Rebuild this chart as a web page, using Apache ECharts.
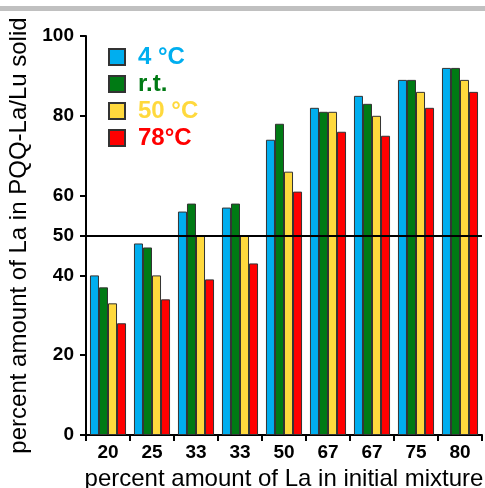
<!DOCTYPE html>
<html>
<head>
<meta charset="utf-8">
<script src="https://cdn.jsdelivr.net/npm/echarts@6/dist/echarts.min.js"></script>
<style>html,body{margin:0;padding:0;background:#fff}#c{width:485px;height:488px}</style>
</head>
<body>
<div id="c"></div>
<script>
var categories = ['20', '25', '33', '33', '50', '67', '67', '75', '80'];
var seriesNames = ['4 °C', 'r.t.', '50 °C', '78°C'];
var vals4C = [40, 48, 56, 57, 74, 82, 85, 89, 92];
var valsRT = [37, 47, 58, 58, 78, 81, 83, 89, 92];
var vals50C = [33, 40, 50, 50, 66, 81, 80, 86, 89];
var vals78C = [28, 34, 39, 43, 61, 76, 75, 82, 86];
var yTickValues = [0, 20, 40, 50, 60, 80, 100];
var refLineValue = 50;
var colors = ['#00AEEF', '#007A14', '#FFD93D', '#FF0000'];
var FONT = 'Liberation Sans, Arial, sans-serif';

var allVals = [vals4C, valsRT, vals50C, vals78C];
var series = allVals.map(function (v, i) {
  var s = {
    name: seriesNames[i],
    type: 'bar',
    data: v,
    barGap: '0%',
    barCategoryGap: '18%',
    itemStyle: { color: colors[i], borderColor: '#333', borderWidth: 1 },
    animation: false
  };
  if (i === 0) {
    s.markLine = {
      silent: true,
      symbol: 'none',
      label: { show: false },
      lineStyle: { color: '#000', width: 2, type: 'solid' },
      data: [{ yAxis: refLineValue }],
      animation: false
    };
  }
  return s;
});

var chart = echarts.init(document.getElementById('c'));
chart.setOption({
  animation: false,
  color: colors,
  graphic: [{
    type: 'rect', left: 0, top: 6,
    shape: { width: 485, height: 5 },
    style: { fill: '#c0c0c0' }
  }],
  grid: { left: 86, right: 3, top: 36, bottom: 53, containLabel: false, outerBoundsMode: 'none' },
  legend: {
    orient: 'vertical',
    left: 108, top: 45,
    padding: 0,
    itemWidth: 16, itemHeight: 16, itemGap: 3,
    icon: 'rect',
    data: seriesNames.map(function (n, i) {
      return { name: n, textStyle: { color: colors[i] } };
    }),
    textStyle: { fontSize: 24, lineHeight: 24, fontWeight: 'bold', fontFamily: FONT, padding: [0, 0, 0, 8] }
  },
  xAxis: {
    type: 'category',
    data: categories,
    name: 'percent amount of La in initial mixture',
    nameLocation: 'middle',
    nameGap: 30,
    nameTextStyle: { fontSize: 24, color: '#000', fontFamily: FONT },
    axisLine: { lineStyle: { color: '#000', width: 2 } },
    axisTick: { show: true, length: 6, lineStyle: { color: '#000', width: 2 }, alignWithLabel: false },
    axisLabel: { fontSize: 19, fontWeight: 'bold', color: '#000', fontFamily: FONT, margin: 8 }
  },
  yAxis: {
    type: 'value',
    min: 0, max: 100, interval: 10,
    name: 'percent amount of La in PQQ-La/Lu solid',
    nameLocation: 'middle',
    nameGap: 55,
    nameTextStyle: { fontSize: 24, color: '#000', fontFamily: FONT },
    axisLine: { show: true, lineStyle: { color: '#000', width: 2 } },
    axisTick: { show: true, length: 6, lineStyle: { color: '#000', width: 2 }, customValues: yTickValues },
    axisLabel: { fontSize: 19, fontWeight: 'bold', color: '#000', fontFamily: FONT, margin: 12, customValues: yTickValues },
    splitLine: { show: false }
  },
  series: series
});
</script>
</body>
</html>
